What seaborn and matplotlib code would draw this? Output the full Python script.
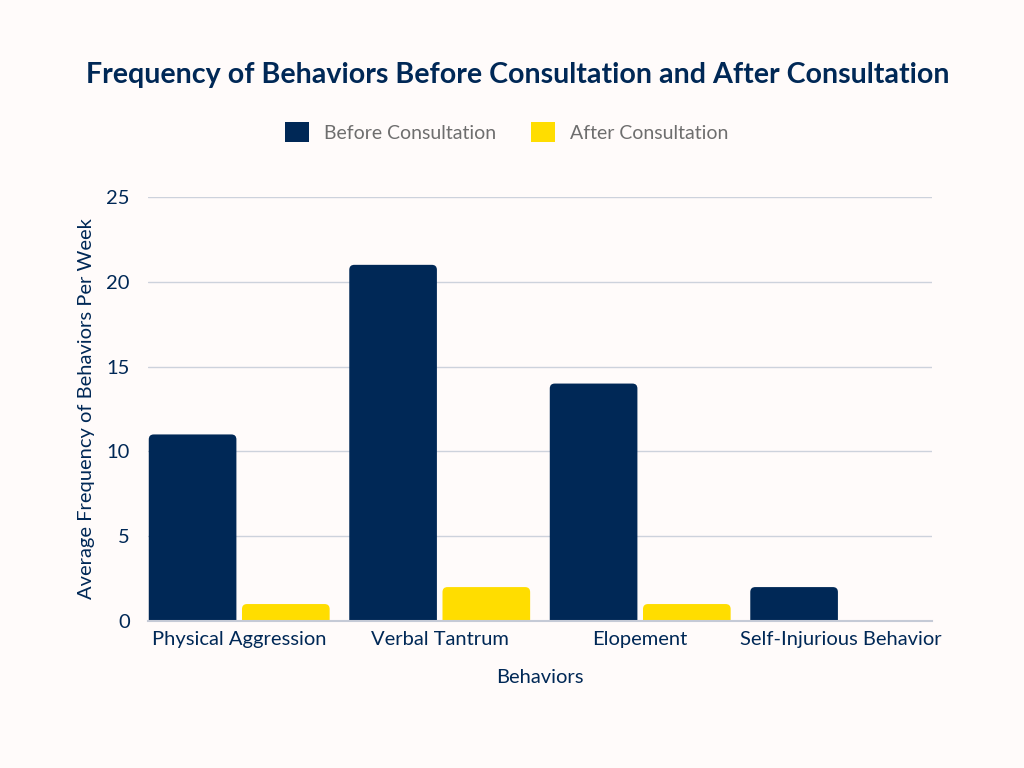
import matplotlib
matplotlib.use("Agg")
import matplotlib.pyplot as plt
import seaborn as sns
import pandas as pd
from matplotlib.patches import FancyBboxPatch, Patch

categories = ["Physical Aggression", "Verbal Tantrum", "Elopement", "Self-Injurious Behavior"]
before = [11, 21, 14, 2]
after = [1, 2, 1, 0]
series = ["Before Consultation", "After Consultation"]
colors = ["#002856", "#FFDD00"]

df = pd.DataFrame({
    "Behavior": categories * 2,
    "Series": [series[0]] * len(categories) + [series[1]] * len(categories),
    "Value": before + after,
})

BG = "#FFFBFA"
NAVY = "#002856"
sns.set_theme(style="white")
plt.rcParams["font.family"] = ["Lato", "DejaVu Sans"]

fig = plt.figure(figsize=(10.24, 7.68), dpi=100, facecolor=BG)
ax = fig.add_axes([0.1445, 0.1914, 0.7656, 0.5521])
ax.set_facecolor(BG)

sns.barplot(data=df, x="Behavior", y="Value", hue="Series", palette=colors,
            width=0.93, gap=0.06, ax=ax, legend=False, errorbar=None,
            saturation=1, zorder=3)

# rounded tops
old = list(ax.patches)
r = 0.025
aspect = (1 / 16.96) / (1 / 200)
for p in old:
    x, y = p.get_x(), p.get_y()
    w, h = p.get_width(), p.get_height()
    fc = p.get_facecolor()
    p.remove()
    if h <= 0:
        continue
    ext = 0.5
    fb = FancyBboxPatch((x, y - ext), w, h + ext,
                        boxstyle=f"round,pad=0,rounding_size={r}",
                        mutation_aspect=aspect, facecolor=fc, edgecolor="none",
                        zorder=3)
    ax.add_patch(fb)

ax.set_xlim(-0.455, 3.455)
ax.set_ylim(0, 25)
ax.set_yticks([0, 5, 10, 15, 20, 25])
ax.yaxis.grid(True, color="#CDD2DC", linewidth=1)
ax.set_axisbelow(True)
for s in ["top", "right", "left"]:
    ax.spines[s].set_visible(False)
ax.spines["bottom"].set_color("#C5CAD6")
ax.spines["bottom"].set_linewidth(1.5)
ax.spines["bottom"].set_zorder(4)
ax.tick_params(axis="both", length=0, labelsize=14.5, labelcolor=NAVY)
ax.tick_params(axis="y", pad=13)
ax.tick_params(axis="x", pad=7)

ax.set_xlabel("Behaviors", fontsize=14.5, color=NAVY, labelpad=15)
ax.set_ylabel("Average Frequency of Behaviors Per Week", fontsize=14.5, color=NAVY, labelpad=8)

fig.text(0.506, 0.902, "Frequency of Behaviors Before Consultation and After Consultation",
         ha="center", va="center", fontsize=20.6, fontweight="bold", color=NAVY)

handles = [Patch(facecolor=c, edgecolor="none") for c in colors]
fig.legend(handles, series, loc="center", bbox_to_anchor=(0.495, 0.828), ncol=2,
           frameon=False, fontsize=14, labelcolor="#6E6E6E", handlelength=1.2,
           handleheight=1.2, columnspacing=1.8, handletextpad=0.8)

fig.savefig("out.png", dpi=100, facecolor=BG)
